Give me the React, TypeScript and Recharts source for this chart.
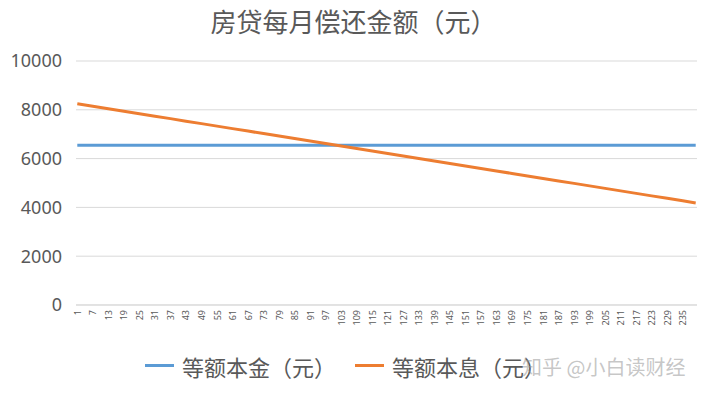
import { LineChart, Line, XAxis, YAxis, CartesianGrid } from 'recharts';

const months = [1, 7, 13, 19, 25, 31, 37, 43, 49, 55, 61, 67, 73, 79, 85, 91, 97, 103, 109, 115, 121, 127, 133, 139, 145, 151, 157, 163, 169, 175, 181, 187, 193, 199, 205, 211, 217, 223, 229, 235, 240];
const equalPrincipal = [6545, 6545, 6545, 6545, 6545, 6545, 6545, 6545, 6545, 6545, 6545, 6545, 6545, 6545, 6545, 6545, 6545, 6545, 6545, 6545, 6545, 6545, 6545, 6545, 6545, 6545, 6545, 6545, 6545, 6545, 6545, 6545, 6545, 6545, 6545, 6545, 6545, 6545, 6545, 6545, 6545];
const equalInstallment = [8250, 8148, 8046, 7944, 7842, 7740, 7638, 7535, 7433, 7331, 7229, 7127, 7025, 6923, 6821, 6719, 6617, 6515, 6413, 6311, 6208, 6106, 6004, 5902, 5800, 5698, 5596, 5494, 5392, 5290, 5188, 5086, 4984, 4882, 4779, 4677, 4575, 4473, 4371, 4269, 4184];
const xTicks = [1, 7, 13, 19, 25, 31, 37, 43, 49, 55, 61, 67, 73, 79, 85, 91, 97, 103, 109, 115, 121, 127, 133, 139, 145, 151, 157, 163, 169, 175, 181, 187, 193, 199, 205, 211, 217, 223, 229, 235];
const yTicks = [0, 2000, 4000, 6000, 8000, 10000];

const BLUE = '#5B9BD5';
const ORANGE = '#ED7D31';
const TEXT = '#595959';
const CJK = '"Noto Sans CJK SC", "Noto Sans", sans-serif';

const data = months.map((m, i) => ({
  month: m,
  principal: equalPrincipal[i],
  installment: equalInstallment[i],
}));

function MonthTick({ x, y, payload }: any) {
  return (
    <text
      x={x}
      y={y}
      transform={`rotate(-90, ${x}, ${y})`}
      textAnchor="end"
      dominantBaseline="central"
      fontSize={9}
      fill={TEXT}
      fontFamily='"Noto Sans", sans-serif'
    >
      {payload.value}
    </text>
  );
}

function LegendItem({ color, label, gap }: { color: string; label: string; gap: number }) {
  return (
    <span style={{ display: 'inline-flex', alignItems: 'center', marginRight: gap }}>
      <span style={{ display: 'inline-block', width: 29, height: 3, background: color, marginRight: 8 }} />
      <span>{label}</span>
    </span>
  );
}

export default function App() {
  return (
    <div style={{ position: 'absolute', left: 0, top: 0, width: 707, height: 393, background: '#fff', fontFamily: CJK }}>
      <div style={{ position: 'absolute', left: 0, top: 4, width: 707, textAlign: 'center', fontSize: 26, color: TEXT, lineHeight: '34px' }}>
        房贷每月偿还金额（元）
      </div>
      <LineChart width={707} height={393} data={data} margin={{ top: 61, right: 10, left: 0, bottom: 0 }}>
        <CartesianGrid vertical={false} stroke="#d9d9d9" />
        <XAxis
          dataKey="month"
          type="number"
          domain={[0.5, 240.5]}
          ticks={xTicks}
          interval={0}
          height={88}
          tick={<MonthTick />}
          tickLine={false}
          tickSize={0}
          tickMargin={5}
          axisLine={{ stroke: '#d9d9d9' }}
        />
        <YAxis
          domain={[0, 10000]}
          ticks={yTicks}
          width={76}
          axisLine={false}
          tickLine={false}
          tickSize={0}
          tickMargin={14}
          tick={{ fontSize: 18, fill: TEXT, fontFamily: '"Noto Sans", sans-serif' }}
        />
        <Line dataKey="principal" stroke={BLUE} strokeWidth={3} dot={false} isAnimationActive={false} />
        <Line dataKey="installment" stroke={ORANGE} strokeWidth={3} dot={false} isAnimationActive={false} />
      </LineChart>
      <div style={{ position: 'absolute', left: 145, top: 341, fontSize: 22, color: TEXT, lineHeight: '32px', whiteSpace: 'nowrap' }}>
        <LegendItem color={BLUE} label="等额本金（元）" gap={19} />
        <LegendItem color={ORANGE} label="等额本息（元）" gap={0} />
      </div>
      <div style={{ position: 'absolute', left: 522, top: 352, fontSize: 20, color: 'rgba(150,150,150,0.55)', lineHeight: '30px', whiteSpace: 'nowrap' }}>
        知乎 @小白读财经
      </div>
    </div>
  );
}
